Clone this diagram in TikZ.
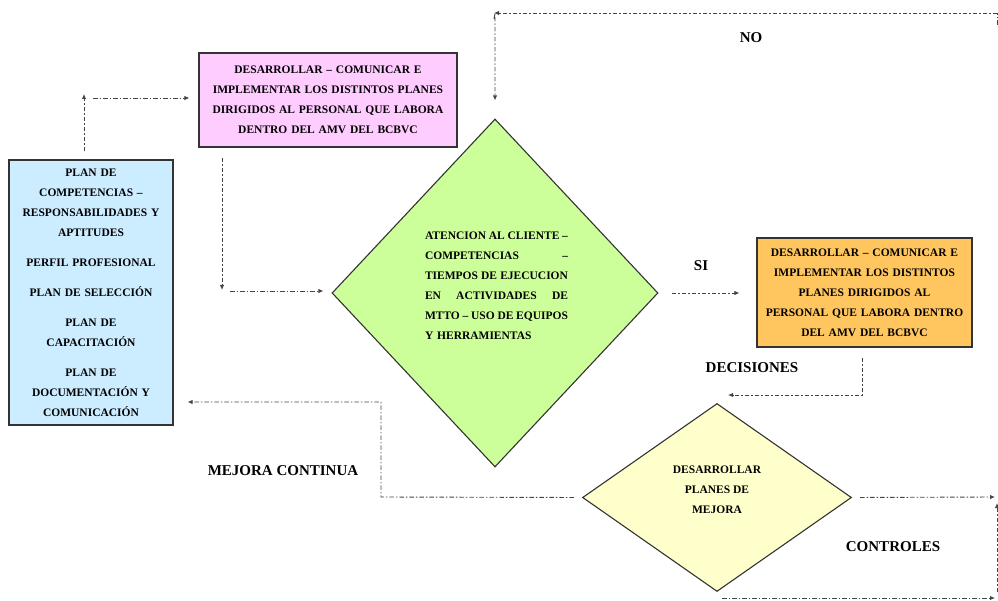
\documentclass[tikz,border=0pt]{standalone}
\usepackage{fontspec}
\setmainfont{Liberation Serif}
\usetikzlibrary{shapes.geometric,arrows.meta}

\definecolor{planblue}{HTML}{CCECFF}
\definecolor{planpink}{HTML}{FFCCFF}
\definecolor{planorange}{HTML}{FFC660}
\definecolor{plangreen}{HTML}{CCFF99}
\definecolor{planyellow}{HTML}{FFFFCC}
\definecolor{boxline}{HTML}{333333}
\definecolor{flowline}{HTML}{444444}

\newcommand{\boxfont}{\fontsize{11.5}{20}\selectfont\bfseries}
\newcommand{\tagfont}{\fontsize{15}{17}\selectfont\bfseries}
% one justified line of the evaluation text
\newcommand{\jline}[1]{\makebox[143pt][l]{#1}}

\begin{document}
\begin{tikzpicture}[x=1pt,y=-1pt,
  box/.style={draw=boxline, line width=1.1pt, inner sep=0pt, align=center, font=\boxfont},
  rhomb/.style={diamond, draw=boxline, line width=1.1pt, inner sep=0pt},
  tag/.style={font=\tagfont, inner sep=0pt},
  flow/.style={draw=flowline, line width=0.9pt,
    dash pattern=on 4.5pt off 2pt on 1.5pt off 2pt,
    -{Latex[length=5pt,width=4.5pt]}},
  plain/.style={draw=flowline, line width=0.9pt,
    dash pattern=on 4.5pt off 2pt on 1.5pt off 2pt}]

\useasboundingbox (0,0) rectangle (998,601);

% ---- boxes ----
\node[box, fill=planblue, minimum width=164pt, minimum height=265pt, text width=160pt]
  (plan) at (91,292.5)
  {PLAN DE\\COMPETENCIAS –\\RESPONSABILIDADES Y\\APTITUDES\\[10pt]
   PERFIL PROFESIONAL\\[10pt]PLAN DE SELECCIÓN\\[10pt]
   PLAN DE\\CAPACITACIÓN\\[10pt]
   PLAN DE\\DOCUMENTACIÓN Y\\COMUNICACIÓN};

\node[box, fill=planpink, minimum width=258pt, minimum height=94pt, text width=250pt]
  (impl) at (328,100)
  {DESARROLLAR – COMUNICAR E\\IMPLEMENTAR LOS DISTINTOS PLANES\\
   DIRIGIDOS AL PERSONAL QUE LABORA\\DENTRO DEL AMV DEL BCBVC};

\node[box, fill=planorange, minimum width=215pt, minimum height=109pt, text width=210pt]
  (apply) at (864.5,292.5)
  {DESARROLLAR – COMUNICAR E\\IMPLEMENTAR LOS DISTINTOS\\PLANES DIRIGIDOS AL\\
   PERSONAL QUE LABORA DENTRO\\DEL AMV DEL BCBVC};

% ---- decisions ----
\node[rhomb, fill=plangreen, minimum width=326pt, minimum height=348pt]
  (check) at (495,293) {};
\node[font=\boxfont, text width=143pt, align=left, inner sep=0pt]
  (checktxt) at (496.5,286)
  {\jline{ATENCION\hfill AL\hfill CLIENTE\hfill –}\\
   \jline{COMPETENCIAS\hfill –}\\
   \jline{TIEMPOS\hfill DE\hfill EJECUCION}\\
   \jline{EN\hfill ACTIVIDADES\hfill DE}\\
   \jline{MTTO\hfill –\hfill USO\hfill DE\hfill EQUIPOS}\\
   Y HERRAMIENTAS};

\node[rhomb, fill=planyellow, minimum width=269pt, minimum height=188pt]
  (improve) at (717,497.5) {};
\node[font=\boxfont, align=center, inner sep=0pt] (improvetxt) at (717,490)
  {DESARROLLAR\\PLANES DE\\MEJORA};

% ---- labels ----
\node[tag] (no) at (751,38) {NO};
\node[tag] (si) at (701,266) {SI};
\node[tag] (dec) at (752,368) {DECISIONES};
\node[tag] (mej) at (283,471) {MEJORA CONTINUA};
\node[tag] (ctl) at (893,547) {CONTROLES};

% ---- corner points ----
\coordinate (k1) at (84,98);
\coordinate (k2) at (222,291);
\coordinate (k4) at (862,395);
\coordinate (k4e) at (728,395);
\coordinate (k5a) at (381,497);
\coordinate (k5b) at (381,402);
\coordinate (r1) at (995,497);
\coordinate (b0) at (722,598);
\coordinate (b1) at (995,598);
\coordinate (v0) at (997,592);
\coordinate (v1) at (997,503);
\coordinate (n1) at (997,25);
\coordinate (n2) at (997,13);
\coordinate (n3) at (494,13);

% ---- connectors ----
% plans to implementation
\draw[flow] ([yshift=8pt]plan.north -| k1) -- ([yshift=4pt]k1);
\draw[flow, shorten >=9pt] ([xshift=9pt]k1) -- (k1 -| impl.west);
% implementation to evaluation
\draw[flow] ([yshift=-10pt]impl.south -| k2) -- ([yshift=1pt]k2);
\draw[flow, shorten >=8pt] ([xshift=8pt]k2) -- (k2 -| check.west);
% SI branch
\draw[flow, shorten <=13pt, shorten >=17pt] (check.east) -- (check.east -| apply.west);
% decisions to improvement
\draw[flow] ([yshift=-10pt]apply.south -| k4) -- (k4) -- (k4e);
% continuous improvement back to the plans
\draw[flow, shorten <=8pt, shorten >=14pt] (improve.west) -- (k5a) -- (k5b) -- (k5b -| plan.east);
% controls
\draw[flow, shorten <=8pt] (improve.east) -- (r1);
\draw[flow] (b0) -- (b1);
\draw[flow] (v0) -- (v1);
% NO branch
\draw[plain] (n1) -- (n2);
\draw[flow] (n2) -- (n3);
\draw[flow, shorten >=18pt] ([yshift=-6pt]n3) -- (n3 -| check.north) -- (check.north);
\end{tikzpicture}
\end{document}
